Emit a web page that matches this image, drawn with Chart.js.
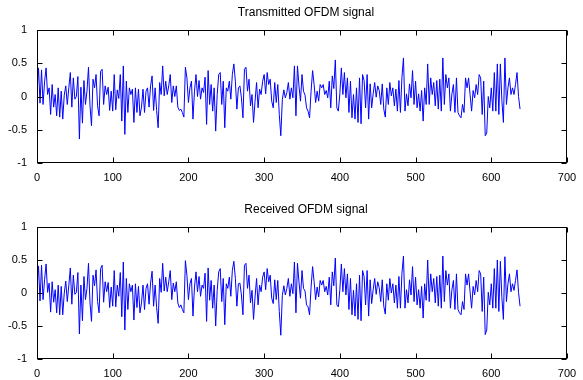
<!DOCTYPE html>
<html>
<head>
<meta charset="utf-8">
<script src="https://cdn.jsdelivr.net/npm/chart.js@4.4.1/dist/chart.umd.min.js"></script>
<style>
  html, body { margin: 0; padding: 0; background: #fff; overflow: hidden; }
  .plot { position: absolute; left: 0; width: 583px; }
</style>
</head>
<body>
<div class="plot" style="top:0;height:195px"><canvas id="txChart"></canvas></div>
<div class="plot" style="top:197px;height:183px"><canvas id="rxChart"></canvas></div>
<script>
// samples, one value every second sample index
const sampleStep = 2;
const xTicks = [0, 100, 200, 300, 400, 500, 600, 700];
const yTicks = [-1, -0.5, 0, 0.5, 1];
const titles = ['Transmitted OFDM signal', 'Received OFDM signal'];

const txSignal = [
  0.05, 0.43, -0.1, 0.4, -0.12, 0.22, 0.43, 0.03, 0.13, -0.27, 0.18, -0.16, 0.03, -0.29, 0.13, -0.31, 0.08, -0.34, 0.02, 0.16, -0.12, 0.13, 0.36, -0.16, 0.28, -0.04, 0.0,
  0.3, -0.64, 0.14, -0.4, 0.24, -0.12, 0.08, 0.44, -0.14, -0.44, 0.26, 0.13, 0.33, -0.14, -0.29, 0.38, 0.41, -0.12, 0.16, 0.03, 0.14, -0.21, 0.08, -0.22, 0.33, -0.2,
  0.1, -0.03, 0.33, -0.37, 0.46, -0.57, 0.23, -0.24, 0.13, 0.03, 0.11, -0.39, 0.13, -0.24, 0.11, -0.29, -0.16, 0.11, -0.24, 0.08, 0.13, -0.16, 0.16, 0.31, -0.21, 0.13, -0.21,
  -0.47, 0.21, 0.03, 0.46, 0.01, 0.23, 0.03, 0.16, 0.33, -0.09, 0.16, 0.0, 0.16, -0.16, -0.21, -0.19, -0.24, -0.31, 0.44, 0.28, -0.09, 0.13, 0.23, -0.34, 0.08, 0.33, 0.0,
  0.24, -0.04, 0.13, 0.06, 0.29, -0.42, 0.39, -0.12, 0.18, -0.22, 0.13, -0.52, 0.03, 0.33, 0.36, -0.12, 0.23, -0.47, 0.13, 0.08, 0.23, -0.04, 0.33, 0.49, 0.23, -0.19, 0.13,
  0.16, -0.02, -0.32, 0.41, 0.44, 0.08, 0.26, -0.14, 0.03, -0.39, -0.07, 0.21, -0.17, 0.11, 0.03, 0.23, 0.33, 0.04, 0.36, 0.18, 0.26, -0.07, -0.17, 0.21, -0.09, 0.18, -0.27, -0.59,
  -0.05, 0.1, -0.02, 0.06, 0.21, -0.04, 0.13, -0.02, 0.46, -0.29, 0.46, 0.16, -0.07, 0.33, 0.08, 0.02, -0.17, -0.22, -0.32, 0.08, 0.39, 0.18, -0.09, 0.08, -0.07, 0.18, 0.13,
  0.18, 0.03, 0.09, -0.02, 0.23, -0.17, 0.31, 0.12, 0.55, -0.17, -0.22, 0.04, 0.43, 0.03, 0.36, -0.02, 0.28, -0.24, 0.23, -0.32, 0.03, -0.34, 0.13, -0.39, 0.28, -0.41, 0.33,
  0.24, -0.17, 0.33, -0.34, 0.19, -0.17, 0.04, 0.21, -0.01, 0.16, 0.09, -0.12, 0.19, -0.19, -0.31, 0.13, -0.12, 0.21, 0.01, 0.13, -0.14, 0.11, -0.22, 0.24, -0.24, 0.29, 0.58,
  -0.22, 0.04, -0.14, 0.19, -0.02, 0.39, -0.12, 0.23, -0.17, 0.04, -0.22, 0.09, -0.37, 0.13, -0.12, 0.49, -0.12, 0.28, 0.03, 0.21, -0.14, 0.24, -0.19, 0.26, -0.22, 0.58, -0.12,
  0.33, 0.13, 0.28, -0.22, 0.04, 0.18, -0.24, 0.28, -0.24, -0.29, -0.32, -0.12, -0.24, 0.28, 0.13, 0.28, 0.03, -0.22, 0.09, -0.02, 0.18, 0.03, 0.33, 0.28, -0.27, 0.23, -0.59,
  -0.55, 0.0, -0.17, 0.13, -0.22, 0.36, -0.22, 0.49, -0.27, 0.49, -0.06, -0.39, 0.58, -0.12, 0.13, 0.28, 0.03, 0.13, 0.03, 0.18, 0.36, 0.0, -0.19
];

const rxSignal = [
  0.07, 0.41, -0.12, 0.42, -0.1, 0.2, 0.44, 0.01, 0.15, -0.29, 0.17, -0.14, 0.05, -0.3, 0.12, -0.33, 0.1, -0.33, 0.0, 0.18, -0.13, 0.11, 0.38, -0.17, 0.27, -0.02, 0.01,
  0.31, -0.62, 0.12, -0.42, 0.25, -0.1, 0.07, 0.45, -0.15, -0.43, 0.27, 0.11, 0.35, -0.13, -0.3, 0.37, 0.42, -0.14, 0.17, 0.02, 0.16, -0.22, 0.09, -0.2, 0.34, -0.21,
  0.12, -0.05, 0.31, -0.36, 0.47, -0.56, 0.22, -0.25, 0.14, 0.02, 0.12, -0.41, 0.14, -0.22, 0.1, -0.3, -0.15, 0.12, -0.25, 0.07, 0.14, -0.17, 0.15, 0.33, -0.2, 0.12, -0.22,
  -0.46, 0.22, 0.01, 0.45, 0.03, 0.24, 0.02, 0.17, 0.34, -0.1, 0.15, 0.02, 0.17, -0.15, -0.22, -0.18, -0.25, -0.3, 0.49, 0.27, -0.1, 0.14, 0.22, -0.35, 0.09, 0.32, 0.02,
  0.25, -0.05, 0.12, 0.07, 0.3, -0.43, 0.38, -0.11, 0.19, -0.23, 0.12, -0.5, 0.04, 0.32, 0.37, -0.13, 0.22, -0.48, 0.14, 0.07, 0.24, -0.05, 0.34, 0.48, 0.22, -0.2, 0.14,
  0.15, -0.03, -0.33, 0.42, 0.45, 0.07, 0.27, -0.15, 0.04, -0.4, -0.06, 0.22, -0.18, 0.12, 0.02, 0.24, 0.32, 0.05, 0.37, 0.17, 0.27, -0.08, -0.16, 0.2, -0.1, 0.19, -0.28, -0.64,
  -0.04, 0.11, -0.03, 0.07, 0.22, -0.05, 0.14, -0.01, 0.47, -0.3, 0.45, 0.17, -0.08, 0.34, 0.07, 0.03, -0.18, -0.21, -0.33, 0.09, 0.4, 0.17, -0.1, 0.09, -0.06, 0.19, 0.12,
  0.19, 0.02, 0.1, -0.03, 0.24, -0.18, 0.32, 0.11, 0.53, -0.18, -0.21, 0.05, 0.44, 0.02, 0.37, -0.03, 0.29, -0.25, 0.22, -0.33, 0.04, -0.35, 0.14, -0.4, 0.27, -0.42, 0.34,
  0.25, -0.18, 0.34, -0.35, 0.2, -0.16, 0.05, 0.22, -0.02, 0.17, 0.08, -0.13, 0.2, -0.2, -0.32, 0.14, -0.11, 0.22, 0.0, 0.14, -0.15, 0.12, -0.23, 0.25, -0.23, 0.3, 0.56,
  -0.23, 0.05, -0.15, 0.2, -0.03, 0.4, -0.13, 0.24, -0.18, 0.05, -0.23, 0.1, -0.38, 0.14, -0.11, 0.5, -0.13, 0.29, 0.02, 0.22, -0.15, 0.25, -0.2, 0.27, -0.23, 0.56, -0.13,
  0.34, 0.12, 0.29, -0.23, 0.05, 0.19, -0.25, 0.29, -0.25, -0.3, -0.33, -0.13, -0.25, 0.29, 0.12, 0.29, 0.02, -0.23, 0.1, -0.03, 0.19, 0.02, 0.34, 0.29, -0.28, 0.24, -0.63,
  -0.56, 0.01, -0.18, 0.14, -0.23, 0.37, -0.23, 0.5, -0.28, 0.48, -0.07, -0.4, 0.55, -0.13, 0.14, 0.29, 0.02, 0.14, 0.04, 0.19, 0.35, 0.01, -0.2
];

const fontFamily = 'Liberation Sans, Arial, sans-serif';

// MATLAB style box with inward tick marks, title centred over the axes
const matlabAxes = {
  id: 'matlabAxes',
  afterDraw(chart, args, opts) {
    const { ctx, chartArea: a, scales } = chart;
    const l = Math.round(a.left) + 0.5, r = Math.round(a.right) - 0.5;
    const t = Math.round(a.top) + 0.5, b = Math.round(a.bottom) - 0.5;
    ctx.save();
    ctx.strokeStyle = '#000';
    ctx.lineWidth = 1;
    ctx.strokeRect(l, t, r - l, b - t);
    ctx.beginPath();
    xTicks.forEach(v => {
      const px = Math.round(scales.x.getPixelForValue(v)) + 0.5;
      ctx.moveTo(px, b); ctx.lineTo(px, b - 5);
      ctx.moveTo(px, t); ctx.lineTo(px, t + 5);
    });
    yTicks.forEach(v => {
      const py = Math.round(scales.y.getPixelForValue(v)) + 0.5;
      ctx.moveTo(l, py); ctx.lineTo(l + 5, py);
      ctx.moveTo(r, py); ctx.lineTo(r - 5, py);
    });
    ctx.stroke();

    ctx.fillStyle = '#000';
    ctx.font = '12px ' + fontFamily;
    ctx.textAlign = 'center';
    ctx.textBaseline = 'middle';
    ctx.fillText(opts.text, (a.left + a.right) / 2 + 4, a.top - 17);
    ctx.restore();
  }
};

const tickFont = { family: fontFamily, size: 11 };

function makePlot(id, title, values, xAxisHeight) {
  const points = values.map((v, i) => ({ x: i * sampleStep, y: v }));
  return new Chart(document.getElementById(id), {
    type: 'line',
    data: {
      datasets: [{
        data: points,
        borderColor: '#0000ff',
        borderWidth: 1,
        pointRadius: 0,
        tension: 0,
        fill: false
      }]
    },
    options: {
      responsive: true,
      maintainAspectRatio: false,
      animation: false,
      layout: { padding: { left: 0, right: 16, top: 30, bottom: 0 } },
      plugins: {
        legend: { display: false },
        tooltip: { enabled: false },
        title: { display: false },
        matlabAxes: { text: title }
      },
      scales: {
        x: {
          type: 'linear',
          min: 0,
          max: 700,
          afterBuildTicks: s => { s.ticks = xTicks.map(v => ({ value: v })); },
          afterFit: s => { s.height = xAxisHeight; },
          grid: { display: false },
          border: { display: false },
          ticks: { color: '#000', font: tickFont, padding: 0, maxRotation: 0 }
        },
        y: {
          min: -1,
          max: 1,
          afterBuildTicks: s => { s.ticks = yTicks.map(v => ({ value: v })); },
          afterFit: s => { s.width = 37; },
          grid: { display: false },
          border: { display: false },
          ticks: { color: '#000', font: tickFont, padding: 2, callback: v => String(v) }
        }
      }
    },
    plugins: [matlabAxes]
  });
}

makePlot('txChart', titles[0], txSignal, 32);
makePlot('rxChart', titles[1], rxSignal, 21);
</script>
</body>
</html>
